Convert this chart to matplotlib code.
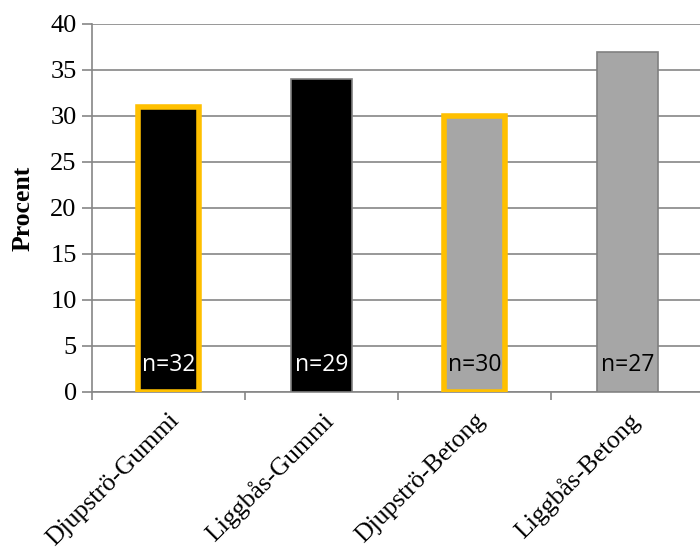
import matplotlib
matplotlib.use("Agg")
import matplotlib.pyplot as plt

categories = ["Djupströ-Gummi", "Liggbås-Gummi", "Djupströ-Betong", "Liggbås-Betong"]
values = [31, 34, 30, 37]
n_labels = ["n=32", "n=29", "n=30", "n=27"]
fill_colors = ["#000000", "#000000", "#A6A6A6", "#A6A6A6"]
edge_colors = ["#FFC000", "#808080", "#FFC000", "#808080"]
edge_widths = [4.0, 1.2, 4.0, 1.2]
text_colors = ["white", "white", "black", "black"]

fig = plt.figure(figsize=(7.0, 5.52), dpi=100)
ax = fig.add_axes([92/700, 160/552, 612/700, 368/552])

x = list(range(len(categories)))
bars = ax.bar(x, values, width=0.4, color=fill_colors, edgecolor=edge_colors,
              linewidth=edge_widths, zorder=3)
for b in bars:
    b.set_joinstyle("miter")

for xi, lab, tc in zip(x, n_labels, text_colors):
    ax.text(xi, 2.9, lab, ha="center", va="center", color=tc,
            fontsize=16.5, family="Open Sans", zorder=4)

ax.set_xlim(-0.5, len(categories) - 0.5)
ax.set_ylim(0, 40)
ax.set_yticks(range(0, 41, 5))
ax.yaxis.grid(True, color="#868686", linewidth=1.2, zorder=0)
ax.set_axisbelow(True)

ax.set_xticks([i - 0.5 for i in range(len(categories) + 1)])
ax.set_xticklabels([])
ax.set_xticks(x, minor=True)
ax.set_xticklabels(categories, minor=True, rotation=45, ha="right",
                   rotation_mode="anchor", family="Liberation Serif", fontsize=18.5)
ax.tick_params(axis="x", which="minor", length=0, pad=12)
ax.tick_params(axis="x", which="major", length=6, color="#868686", width=1.2)
ax.tick_params(axis="y", length=7, color="#868686", width=1.2, pad=4)
for t in ax.get_yticklabels():
    t.set_family("Liberation Serif")
    t.set_fontsize(19)

for s in ["top", "right"]:
    ax.spines[s].set_visible(False)
for s in ["left", "bottom"]:
    ax.spines[s].set_color("#868686")
    ax.spines[s].set_linewidth(1.2)

ax.set_ylabel("Procent", family="Liberation Serif", fontweight="bold", fontsize=18.5)
ax.yaxis.set_label_coords(-57/612, 0.5)

fig.savefig("out.png", dpi=100)
